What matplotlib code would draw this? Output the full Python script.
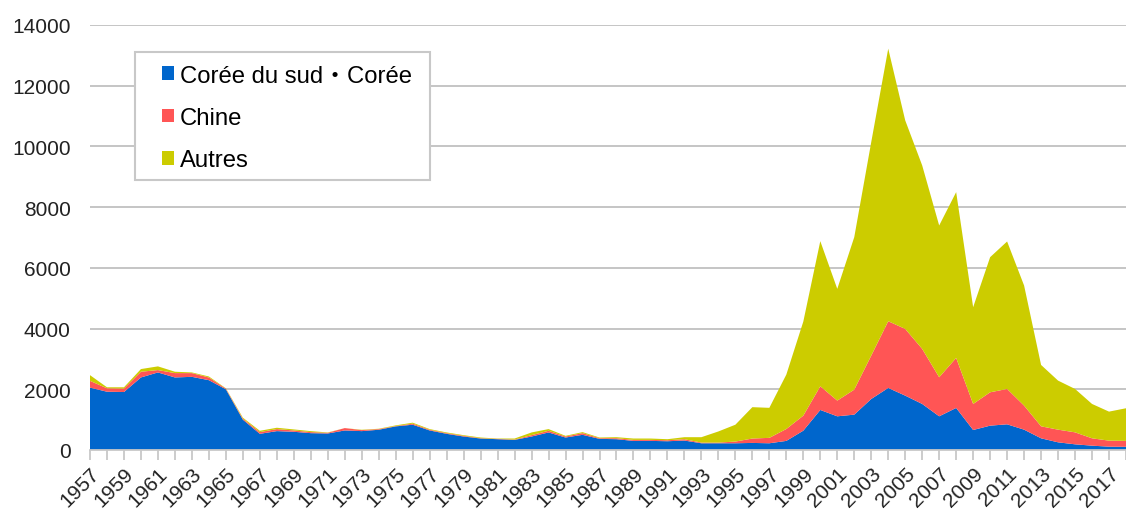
import matplotlib.pyplot as plt
from matplotlib.patches import Patch, Rectangle
import numpy as np

years = np.arange(1957, 2019)

# stacked tops (cumulative), converted to layers below
korea = [2055, 1920, 1910, 2390, 2555, 2390, 2410, 2300, 2000, 1000,
         533, 622, 600, 555, 544, 644, 622, 667, 778, 833,
         644, 533, 444, 378, 356, 333, 444, 578, 411, 500,
         367, 356, 300, 300, 289, 311, 222, 222, 222, 233,
         222, 300, 637, 1319, 1110, 1165, 1681, 2044, 1791, 1517,
         1110, 1385, 659, 802, 846, 670, 385, 253, 187, 143,
         110, 105]
korea_china = [2278, 2033, 2022, 2578, 2633, 2533, 2533, 2389, 2022, 1033,
               589, 689, 644, 589, 567, 722, 656, 689, 789, 867,
               667, 555, 467, 389, 367, 344, 489, 633, 444, 555,
               389, 389, 333, 333, 322, 355, 244, 244, 278, 378,
               400, 692, 1132, 2099, 1627, 1989, 3110, 4242, 3989, 3330,
               2396, 3033, 1517, 1901, 2011, 1462, 780, 670, 582, 385,
               308, 300]
total = [2466, 2066, 2066, 2666, 2755, 2578, 2555, 2422, 2033, 1066,
         633, 733, 678, 622, 578, 722, 667, 700, 811, 900,
         689, 578, 489, 411, 378, 378, 578, 689, 467, 589,
         411, 422, 378, 378, 356, 422, 422, 611, 833, 1411,
         1389, 2484, 4231, 6880, 5308, 7012, 10144, 13221, 10858, 9374,
         7396, 8495, 4704, 6352, 6869, 5418, 2802, 2286, 2011, 1517,
         1264, 1375]

labels = ["Corée du sud・Corée", "Chine", "Autres"]
colors = ["#0066cc", "#ff5555", "#cccc00"]

korea = np.array(korea)
china = np.array(korea_china) - korea
others = np.array(total) - np.array(korea_china)

plt.rcParams['font.family'] = ['Liberation Sans', 'Noto Sans CJK JP', 'DejaVu Sans']

W, H = 1126, 510
fig = plt.figure(figsize=(W / 100, H / 100), dpi=100)
ax = fig.add_axes([90 / W, 1 - 451 / H, 1 - 90 / W, (451 - 26) / H])

ax.stackplot(years, korea, china, others, colors=colors, linewidth=0, zorder=2)

ax.set_ylim(0, 14000)
ax.set_xlim(1957, 1957 + (W - 90) / 17.17)
ax.set_yticks(np.arange(0, 14001, 2000))
ax.yaxis.grid(True, color="#c0c0c0", linewidth=1.3, zorder=0)
ax.set_axisbelow(True)
ax.tick_params(axis="y", length=0, pad=14, labelsize=15, labelcolor="#222222")

ax.set_xticks(years, minor=True)
ax.set_xticks(years[::2])
ax.set_xticklabels([str(y) for y in years[::2]], rotation=45, ha="right",
                   rotation_mode="anchor", fontsize=15, color="#222222")
ax.tick_params(axis="x", which="both", length=7, width=1.3, color="#c8c8c8",
               direction="out", pad=3)

for s in ["top", "right", "left"]:
    ax.spines[s].set_visible(False)
ax.spines["bottom"].set_color("#c8c8c8")
ax.spines["bottom"].set_linewidth(1.3)

# legend box drawn separately so the padding can differ per side
frame = Rectangle((135 / W, 1 - 181 / H), (430 - 135) / W, (181 - 53) / H,
                  transform=fig.transFigure, facecolor="white",
                  edgecolor="#c8c8c8", linewidth=1.5, zorder=5)
fig.patches.append(frame)

handles = [Patch(facecolor=c, edgecolor="none") for c in colors]
leg = fig.legend(handles, labels, loc="center left",
                 bbox_to_anchor=(162 / W, 1 - 119 / H),
                 fontsize=17.2, frameon=False,
                 handlelength=0.5, handleheight=0.5, handletextpad=0.25,
                 labelspacing=0.85, borderpad=0, borderaxespad=0)
leg.set_zorder(6)

fig.savefig("out.png", dpi=100)
